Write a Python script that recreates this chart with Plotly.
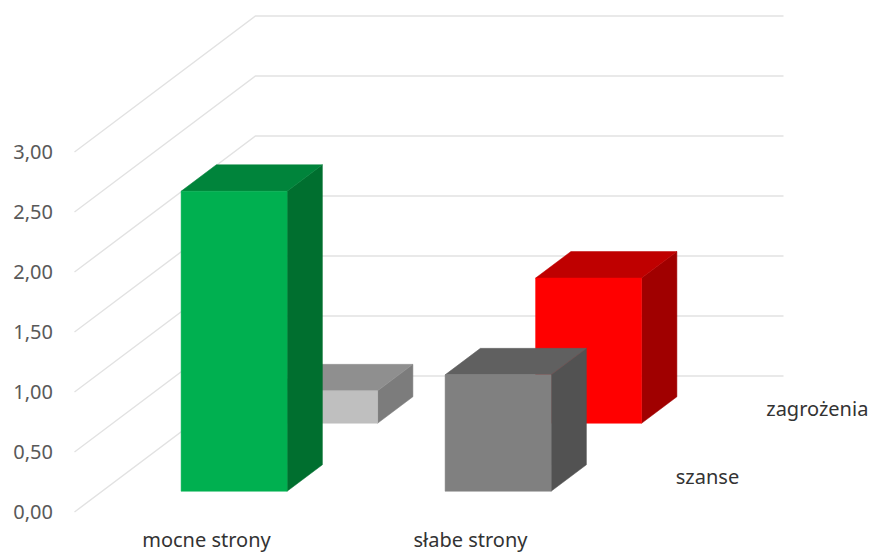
import plotly.graph_objects as go

categories = ["mocne strony", "słabe strony"]
rows = ["szanse", "zagrożenia"]
szanse = [2.50, 0.97]
zagrozenia = [0.27, 1.21]
y_ticks = [0, 0.5, 1, 1.5, 2, 2.5, 3]
y_labels = ["0,00", "0,50", "1,00", "1,50", "2,00", "2,50", "3,00"]

W, H = 870, 552
L, B = 54, 526          # plot area in pixels
X0, Y0 = 74.5, 512      # front-left floor corner
CAT_PX, VAL_PX = 264, 120
DEPTH_DX, DEPTH_DY = 181, 136
BAR_W = 106 / 264
BAR_D = 0.195

def px(x, d):
    """projected x: category units + depth"""
    return x + d * DEPTH_DX / CAT_PX

def py(v, d):
    """projected y: value units + depth"""
    return v + d * DEPTH_DY / VAL_PX

fig = go.Figure()

def line(xs, ys, color="#e2e2e2", width=1.4):
    fig.add_trace(go.Scatter(x=xs, y=ys, mode="lines", hoverinfo="skip",
                             line=dict(color=color, width=width)))

for v in y_ticks:
    line([px(0, 0), px(0, 1), px(2, 1)], [py(v, 0), py(v, 1), py(v, 1)])

def poly(xs, ys, color):
    fig.add_trace(go.Scatter(x=xs + xs[:1], y=ys + ys[:1], mode="lines", fill="toself",
                             fillcolor=color, hoverinfo="skip",
                             line=dict(color=color, width=0.5)))

def column(cat, row, value, front, top, side):
    d0 = (row + 0.5) / 2 - BAR_D / 2
    d1 = d0 + BAR_D
    x0 = cat + 0.5 - BAR_W / 2
    x1 = x0 + BAR_W
    poly([px(x1, d0), px(x1, d1), px(x1, d1), px(x1, d0)],
         [py(0, d0), py(0, d1), py(value, d1), py(value, d0)], side)
    poly([px(x0, d0), px(x1, d0), px(x1, d1), px(x0, d1)],
         [py(value, d0), py(value, d0), py(value, d1), py(value, d1)], top)
    poly([px(x0, d0), px(x1, d0), px(x1, d0), px(x0, d0)],
         [py(0, d0), py(0, d0), py(value, d0), py(value, d0)], front)

column(0, 1, zagrozenia[0], "#BFBFBF", "#8F8F8F", "#7C7C7C")
column(1, 1, zagrozenia[1], "#FF0000", "#BF0000", "#A00000")
column(0, 0, szanse[0], "#00B050", "#00843B", "#006F2F")
column(1, 0, szanse[1], "#808080", "#606060", "#525252")

depths = [(i + 0.5) / 2 for i in range(len(rows))]
fig.add_trace(go.Scatter(
    x=[px(2, d) + 28 / CAT_PX for d in depths],
    y=[py(0, d) - 1 / VAL_PX for d in depths],
    text=rows, mode="text", textposition="middle right", hoverinfo="skip", cliponaxis=False,
    textfont=dict(family="Noto Sans", size=20, color="#333333")))

fig.update_layout(
    width=W, height=H, showlegend=False,
    margin=dict(l=L, r=0, t=0, b=H - B),
    paper_bgcolor="white", plot_bgcolor="white",
    xaxis=dict(range=[(L - X0) / CAT_PX, (W - X0) / CAT_PX], tickmode="array",
               automargin=False,
               tickvals=[i + 0.5 for i in range(len(categories))], ticktext=categories,
               showgrid=False, zeroline=False, showline=False, ticks="",
               tickfont=dict(family="Noto Sans", size=20, color="#333333")),
    yaxis=dict(range=[(Y0 - B) / VAL_PX, Y0 / VAL_PX], tickmode="array",
               automargin=False,
               tickvals=y_ticks, ticktext=y_labels,
               showgrid=False, zeroline=False, showline=False, ticks="",
               tickfont=dict(family="Noto Sans", size=20, color="#595959")),
)

fig.write_html("out.html", config={"displayModeBar": False},
               post_script="document.body.style.margin='0';document.body.style.overflow='hidden';")
